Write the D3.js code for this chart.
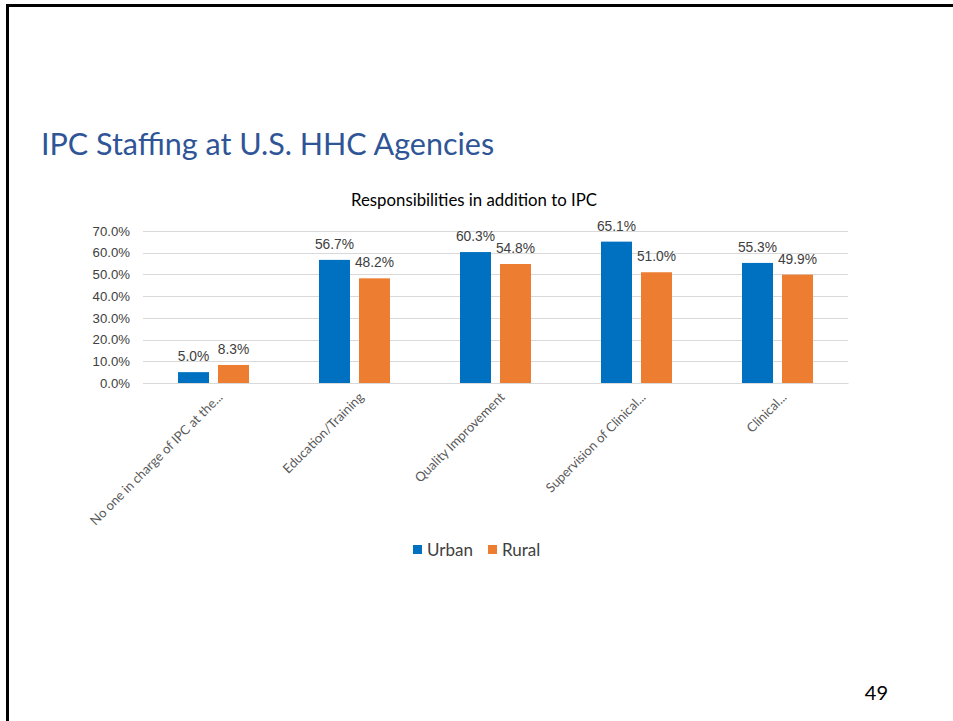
<!DOCTYPE html>
<html>
<head>
<meta charset="utf-8">
<script src="https://cdn.jsdelivr.net/npm/d3@7"></script>
<style>
  html, body { margin: 0; padding: 0; background: #fff; }
  svg { display: block; }
</style>
</head>
<body>
<svg id="slide" width="953" height="721"></svg>
<script>
// Responsibilities held in addition to IPC, by agency location
const categories = [
  "No one in charge of IPC at the...",
  "Education/Training",
  "Quality Improvement",
  "Supervision of Clinical...",
  "Clinical..."
];
const seriesNames = ["Urban", "Rural"];
const urbanValues = [5.0, 56.7, 60.3, 65.1, 55.3];
const ruralValues = [8.3, 48.2, 54.8, 51.0, 49.9];
const yTicks = [0, 10, 20, 30, 40, 50, 60, 70];
const seriesColors = ["#0070C0", "#ED7D31"];

const svg = d3.select("#slide");

// slide frame (top and left edges)
svg.append("line").attr("x1", 6).attr("x2", 953).attr("y1", 5.5).attr("y2", 5.5)
  .attr("stroke", "#000").attr("stroke-width", 3);
svg.append("line").attr("x1", 7.5).attr("x2", 7.5).attr("y1", 4).attr("y2", 721)
  .attr("stroke", "#000").attr("stroke-width", 3);

// slide heading
svg.append("text")
  .attr("x", 41).attr("y", 155)
  .attr("font-family", "Lato, 'Open Sans', sans-serif")
  .attr("font-size", 30.5)
  .attr("fill", "#2F5597")
  .text("IPC Staffing at U.S. HHC Agencies");

// chart title
svg.append("text")
  .attr("x", 474).attr("y", 206)
  .attr("text-anchor", "middle")
  .attr("font-family", "Lato, 'Open Sans', sans-serif")
  .attr("font-size", 16.8)
  .attr("fill", "#000")
  .text("Responsibilities in addition to IPC");

const plot = { left: 143, right: 848, top: 231, bottom: 383 };

const y = d3.scaleLinear().domain([0, 70]).range([plot.bottom, plot.top]);
const x0 = d3.scaleBand().domain(categories).range([plot.left, plot.right]).padding(0);
const x1 = d3.scaleBand().domain(seriesNames).range([0, x0.bandwidth()])
  .paddingInner(0.225).paddingOuter(0.875);

// gridlines
svg.append("g").selectAll("line").data(yTicks).join("line")
  .attr("x1", plot.left).attr("x2", plot.right)
  .attr("y1", d => Math.round(y(d)) + 0.5).attr("y2", d => Math.round(y(d)) + 0.5)
  .attr("stroke", "#D9D9D9").attr("stroke-width", 1);

// y axis labels
const yAxis = svg.append("g")
  .attr("transform", `translate(${plot.left},0)`)
  .call(d3.axisLeft(y).tickValues(yTicks).tickFormat(d => d.toFixed(1) + "%").tickSize(0).tickPadding(13));
yAxis.select(".domain").remove();
yAxis.selectAll("text")
  .attr("font-family", "'Liberation Sans', Arial, sans-serif")
  .attr("font-size", 13.2)
  .attr("fill", "#404040");

// bars
const rows = categories.map((c, i) => ({ cat: c, vals: [urbanValues[i], ruralValues[i]] }));
const groups = svg.append("g").selectAll("g").data(rows).join("g")
  .attr("transform", d => `translate(${x0(d.cat)},0)`);

groups.selectAll("rect")
  .data(d => d.vals.map((v, j) => ({ name: seriesNames[j], v, j })))
  .join("rect")
  .attr("x", d => x1(d.name))
  .attr("width", x1.bandwidth())
  .attr("y", d => y(d.v))
  .attr("height", d => y(0) - y(d.v))
  .attr("fill", d => seriesColors[d.j]);

// value labels
groups.selectAll("text.val")
  .data(d => d.vals.map((v, j) => ({ name: seriesNames[j], v, j })))
  .join("text")
  .attr("class", "val")
  .attr("x", d => x1(d.name) + x1.bandwidth() / 2)
  .attr("y", d => y(d.v) - 11)
  .attr("text-anchor", "middle")
  .attr("font-family", "'Liberation Sans', Arial, sans-serif")
  .attr("font-size", 13.8)
  .attr("fill", "#404040")
  .text(d => d.v.toFixed(1) + "%");

// category labels, rotated
const xAxis = svg.append("g")
  .attr("transform", `translate(0,${plot.bottom})`)
  .call(d3.axisBottom(x0).tickSize(0).tickPadding(0));
xAxis.select(".domain")
  .attr("stroke", "#D9D9D9");
xAxis.selectAll("text")
  .attr("font-family", "Lato, 'Open Sans', sans-serif")
  .attr("font-size", 13)
  .attr("fill", "#595959")
  .attr("text-anchor", "end")
  .attr("dy", null)
  .attr("y", 0)
  .attr("transform", "translate(10,15) rotate(-45)");

// legend
const legend = svg.append("g").attr("transform", "translate(413,545)");
const legendOffsets = [0, 75];
seriesNames.forEach((name, i) => {
  const g = legend.append("g").attr("transform", `translate(${legendOffsets[i]},0)`);
  g.append("rect").attr("width", 9).attr("height", 9).attr("fill", seriesColors[i]);
  g.append("text")
    .attr("x", 14).attr("y", 10.5)
    .attr("font-family", "Lato, 'Open Sans', sans-serif")
    .attr("font-size", 17)
    .attr("fill", "#404040")
    .text(name);
});

// slide number
svg.append("text")
  .attr("x", 888).attr("y", 700)
  .attr("text-anchor", "end")
  .attr("font-family", "Lato, 'Open Sans', sans-serif")
  .attr("font-size", 20)
  .attr("fill", "#000")
  .text("49");
</script>
</body>
</html>
